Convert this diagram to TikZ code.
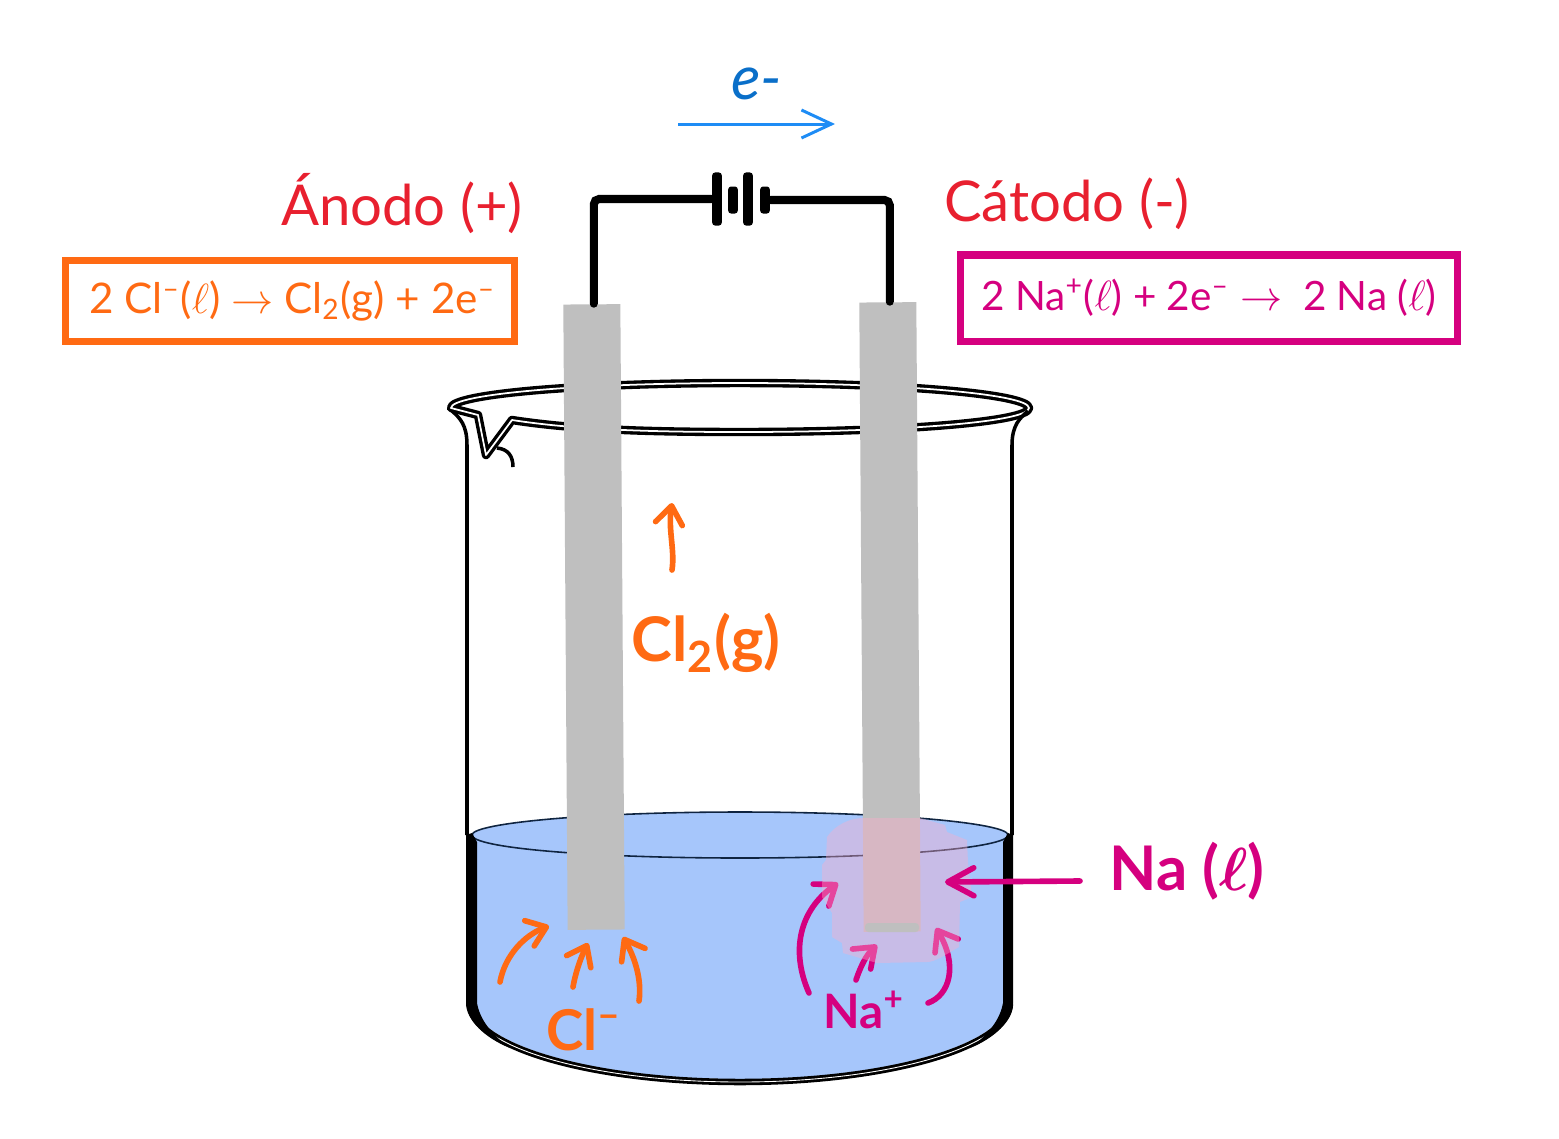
\documentclass[tikz,border=0pt]{standalone}
\usepackage{amsmath}
\usepackage{fontspec}
\setmainfont{Lato}
\usetikzlibrary{arrows.meta,positioning,calc}
\definecolor{recnaranja}{HTML}{FF6A13}
\definecolor{recrosa}{HTML}{D5007F}
\definecolor{recrojo}{HTML}{E8202F}
\definecolor{recazul}{HTML}{0A6FC9}
\definecolor{recceleste}{HTML}{1E8CF5}
\definecolor{liquido}{HTML}{A6C6FB}
\definecolor{grafito}{HTML}{BFBFBF}
\definecolor{sodio}{HTML}{FDADCB}
\definecolor{superficie}{HTML}{0F2440}
\tikzset{
  electrodo/.style = {fill=grafito, minimum width=5.7mm, inner sep=0pt, rotate=0.4},
  placa/.style     = {fill=black, rounded corners=0.8pt, inner sep=0pt, minimum width=0.95mm, minimum height=5.3mm},
  placac/.style    = {placa, minimum height=2.7mm},
  cable/.style     = {line width=2.3pt, line cap=round, rounded corners=1.5pt},
  vidrio/.style    = {line width=0.95pt, double=white, double distance=0.5pt, line join=round},
  caja/.style      = {draw, line width=2pt, inner sep=0pt},
  titulo/.style    = {text=recrojo, font=\fontsize{16}{20}\selectfont},
  flecha/.style    = {line width=1.6pt, line cap=round, -{Straight Barb[round,length=1.8mm,width=2.7mm]}},
  etiq/.style      = {font=\bfseries\fontsize{17.5}{20}\selectfont},
  etiqm/.style     = {font=\bfseries\fontsize{16}{20}\selectfont},
  etiqc/.style     = {font=\bfseries\fontsize{13.5}{16}\selectfont},
}
\begin{document}
\begin{tikzpicture}[x=0.01cm,y=-0.01cm]
  \useasboundingbox (0,0) rectangle (1559,1138);
  % vaso
  \draw[vidrio] (451,408) .. controls (451,394) and (580,383) .. (740,383)
    .. controls (900,383) and (1029,394) .. (1029,408)
    .. controls (1029,422) and (900,432) .. (740,432)
    .. controls (640,432) and (570,429) .. (512,420)
    -- (486,455) -- (478,415) -- cycle;
  \draw[line width=1pt] (452,411) .. controls (460,418) and (467,425) .. (467,445) -- (467,835);
  \draw[line width=1pt] (1028,411) .. controls (1020,418) and (1012,425) .. (1012,445) -- (1012,835);
  \draw[line width=1pt] (497,448) .. controls (508,449) and (513,456) .. (513,467);
  % liquido
  \fill[liquido] (472,836) .. controls (472,823) and (592,812) .. (740,812)
    .. controls (888,812) and (1008,823) .. (1008,836) -- (1008,1000)
    .. controls (1008,1044) and (888,1079) .. (740,1079)
    .. controls (592,1079) and (472,1044) .. (472,1000) -- cycle;
  \draw[superficie, line width=0.45pt] (472,835) .. controls (472,823) and (592,812) .. (740,812)
    .. controls (888,812) and (1008,823) .. (1008,835)
    .. controls (1008,848) and (888,858) .. (740,858)
    .. controls (592,858) and (472,848) .. (472,835) -- cycle;
  \draw[vidrio, line width=0.8pt, double distance=0.25pt] (470,1003) .. controls (470,1047) and (592,1082) .. (740,1082)
    .. controls (888,1082) and (1010,1047) .. (1010,1003);
  \fill (466,835) -- (472,833) -- (477,842) -- (477,1003) .. controls (480,1020) and (492,1035) .. (510,1048)
    .. controls (485,1038) and (466,1020) .. (466,1003) -- cycle;
  \fill (1013,835) -- (1008,833) -- (1003,842) -- (1003,1003) .. controls (1000,1020) and (988,1035) .. (970,1048)
    .. controls (995,1038) and (1013,1020) .. (1013,1003) -- cycle;
  % electrodos
  \node[electrodo, minimum height=6.25cm] (anodo) at (594,617) {};
  \node[electrodo, minimum height=6.29cm] (catodo) at (890,617) {};
  % circuito
  \node[placa]  (pila1) at (717,199) {};
  \node[placac] (pila2) at (733,200) {};
  \node[placa]  (pila3) at (748,199) {};
  \node[placac] (pila4) at (765,200) {};
  \draw[cable] ([xshift=0.02cm]anodo.north) |- (pila1.west);
  \draw[cable] ([xshift=0.02cm]catodo.north) |- (pila4.east);
  % flecha de electrones
  \coordinate (einicio) at (678,124);
  \coordinate (efin) at (835,124);
  \draw[recceleste, line width=0.85pt, -{Straight Barb[length=3mm,width=2.8mm]}] (einicio) -- (efin);
  \node[text=recazul, font=\itshape\fontsize{17.5}{20}\selectfont] (electron) at (757,84) {e-};
  % titulos y semirreacciones
  \node[titulo] (tanodo) at (402,204) {Ánodo (+)};
  \node[titulo] (tcatodo) at (1067,204) {Cátodo (-)};
  \node[caja, draw=recnaranja, text=recnaranja, font=\fontsize{12}{14}\selectfont, minimum width=4.49cm, minimum height=8.1mm] (rxanodo) at (290,301)
    {\hspace{0.5mm}2 Cl\textsuperscript{–}($\ell$) $\rightarrow$ Cl\textsubscript{2}(g) + 2e\textsuperscript{–}};
  \node[caja, draw=recrosa, text=recrosa, font=\fontsize{11.5}{14}\selectfont, minimum width=4.97cm, minimum height=8.6mm] (rxcatodo) at (1209,298)
    {2 Na\textsuperscript{+}($\ell$) + 2e\textsuperscript{–} $\rightarrow$\ \ 2 Na ($\ell$)};
  % cloro
  \coordinate (gas1) at (672,570);
  \coordinate (gas2) at (672,503);
  \draw[flecha, recnaranja] (gas1) .. controls (675,550) and (668,530) .. (gas2);
  \node[etiq, text=recnaranja] (cloro) at (706,643) {Cl\textsubscript{2}(g)};
  \coordinate (cla1) at (500,982);
  \coordinate (cla2) at (549,926);
  \coordinate (clb1) at (573,987);
  \coordinate (clb2) at (588,943);
  \coordinate (clc1) at (639,1001);
  \coordinate (clc2) at (623,937);
  \draw[flecha, recnaranja] (cla1) .. controls (505,955) and (525,935) .. (cla2);
  \draw[flecha, recnaranja] (clb1) .. controls (576,970) and (582,955) .. (clb2);
  \draw[flecha, recnaranja] (clc1) .. controls (642,980) and (635,958) .. (clc2);
  \node[etiqm, text=recnaranja] (cloruro) at (584,1030) {Cl\textsuperscript{–}};
  % sodio
  \coordinate (naa1) at (809,993);
  \coordinate (naa2) at (838,883);
  \coordinate (nab1) at (856,980);
  \coordinate (nab2) at (877,945);
  \coordinate (nac1) at (928,1003);
  \coordinate (nac2) at (936,928);
  \draw[flecha, recrosa] (naa1) .. controls (790,950) and (800,910) .. (naa2);
  \draw[flecha, recrosa] (nab1) .. controls (860,968) and (866,955) .. (nab2);
  \draw[flecha, recrosa] (nac1) .. controls (950,995) and (958,965) .. (nac2);
  \fill[sodio, opacity=0.4] (827,837) .. controls (835,825) and (850,818) .. (863,818) -- (920,818)
    -- (945,825) -- (947,832) -- (967,840) -- (968,863) -- (972,897) -- (960,902) -- (959,947)
    .. controls (945,955) and (935,962) .. (927,962) -- (877,963) -- (843,953) -- (842,943) -- (832,937)
    -- (832,913) -- (822,897) -- (822,865) -- (826,860) -- cycle;
  \fill[grafito, rounded corners=1pt] (865,923) rectangle (919,932);
  \node[etiqc, text=recrosa] (sodion) at (864,1010) {Na\textsuperscript{+}};
  \node[etiq, text=recrosa] (sodioliq) at (1187,871) {Na ($\boldsymbol{\ell}$)};
  \coordinate (nainicio) at (1080,881);
  \coordinate (naflecha) at (945,882);
  \draw[flecha, recrosa, -{Straight Barb[round,length=2.6mm,width=2.8mm]}] (nainicio) -- (naflecha);
\end{tikzpicture}
\end{document}
